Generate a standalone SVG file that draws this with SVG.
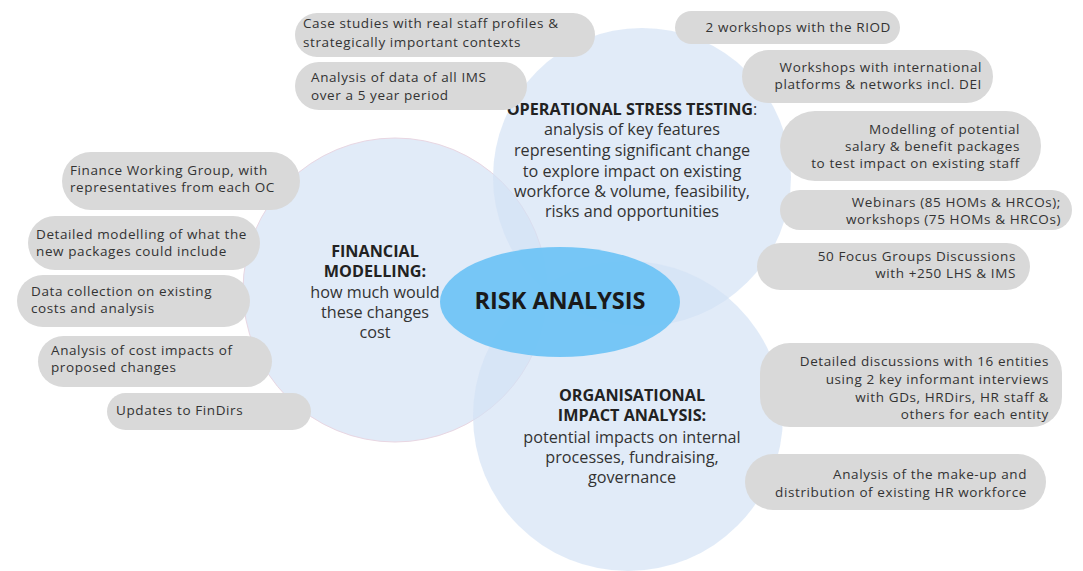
<svg xmlns="http://www.w3.org/2000/svg" width="1083" height="571" viewBox="0 0 1083 571">
<style>
.circ{fill:#d3e2f4;fill-opacity:0.68}
.pill{fill:#d9d9d9}
.pt{font-family:"Open Sans","Noto Sans",sans-serif;font-size:13.5px;letter-spacing:0.6px;fill:#333}
.ct{font-family:"Open Sans","Noto Sans",sans-serif;font-size:16.2px;fill:#333;text-anchor:middle}
.b{font-weight:bold;fill:#222}
.r{text-anchor:end}
</style>
<rect width="1083" height="571" fill="#ffffff"/>
<g id="circles">
<g id="financial-circle"><circle class="circ" cx="395" cy="290" r="152" stroke="#e8d6e2" stroke-width="1"/></g>
<g id="operational-circle"><circle class="circ" cx="642" cy="177" r="149"/></g>
<g id="organisational-circle"><circle class="circ" cx="628" cy="416" r="155"/></g>
</g>
<g id="connectors"></g>
<g id="center">
<ellipse cx="560" cy="302" rx="120" ry="55" fill="#70c4f6" fill-opacity="0.95"/>
<text x="560" y="309" font-family="'Open Sans','Noto Sans',sans-serif" font-size="23.5" font-weight="bold" fill="#1a1a1a" text-anchor="middle">RISK ANALYSIS</text>
</g>
<g id="operational-text">
<text class="ct" x="632" y="115"><tspan class="b">OPERATIONAL STRESS TESTING</tspan>:</text>
<text class="ct" x="632" y="135">analysis of key features</text>
<text class="ct" x="632" y="156">representing significant change</text>
<text class="ct" x="632" y="177">to explore impact on existing</text>
<text class="ct" x="632" y="197">workforce &amp; volume, feasibility,</text>
<text class="ct" x="632" y="217">risks and opportunities</text>
</g>
<g id="financial-text">
<text class="ct b" x="375" y="257">FINANCIAL</text>
<text class="ct b" x="375" y="277">MODELLING:</text>
<text class="ct" x="375" y="298">how much would</text>
<text class="ct" x="375" y="318">these changes</text>
<text class="ct" x="375" y="338">cost</text>
</g>
<g id="organisational-text">
<text class="ct b" x="632" y="401">ORGANISATIONAL</text>
<text class="ct b" x="632" y="421">IMPACT ANALYSIS:</text>
<text class="ct" x="632" y="443">potential impacts on internal</text>
<text class="ct" x="632" y="463">processes, fundraising,</text>
<text class="ct" x="632" y="483">governance</text>
</g>
<g id="pill-case-studies"><rect class="pill" x="295" y="13" width="300" height="44" rx="22"/>
<text class="pt" x="303" y="28">Case studies with real staff profiles &amp;</text>
<text class="pt" x="303" y="47">strategically important contexts</text></g>
<g id="pill-ims-data"><rect class="pill" x="295" y="62" width="232" height="48" rx="24"/>
<text class="pt" x="311" y="82">Analysis of data of all IMS</text>
<text class="pt" x="311" y="100">over a 5 year period</text></g>
<g id="pill-riod"><rect class="pill" x="675" y="11" width="225" height="33" rx="16.5"/>
<text class="pt r" x="891" y="32">2 workshops  with the RIOD</text></g>
<g id="pill-intl"><rect class="pill" x="742" y="50" width="251" height="53" rx="26.5"/>
<text class="pt r" x="982" y="72">Workshops with international</text>
<text class="pt r" x="982" y="89">platforms &amp; networks incl. DEI</text></g>
<g id="pill-modelling"><rect class="pill" x="780" y="111" width="261" height="70" rx="35"/>
<text class="pt r" x="1020" y="134">Modelling of potential</text>
<text class="pt r" x="1020" y="151">salary &amp; benefit packages</text>
<text class="pt r" x="1020" y="168">to test impact on existing staff</text></g>
<g id="pill-webinars"><rect class="pill" x="780" y="190" width="292" height="40" rx="20"/>
<text class="pt r" x="1061" y="207">Webinars (85 HOMs  &amp; HRCOs);</text>
<text class="pt r" x="1061" y="224">workshops (75 HOMs &amp; HRCOs)</text></g>
<g id="pill-focus"><rect class="pill" x="757" y="243" width="273" height="47" rx="23.5"/>
<text class="pt r" x="1016" y="261">50 Focus Groups Discussions</text>
<text class="pt r" x="1016" y="278">with +250 LHS &amp; IMS</text></g>
<g id="pill-discussions"><rect class="pill" x="760" y="343" width="302" height="84" rx="30"/>
<text class="pt r" x="1049" y="366">Detailed discussions with 16 entities</text>
<text class="pt r" x="1049" y="384">using 2 key informant interviews</text>
<text class="pt r" x="1049" y="402">with GDs, HRDirs, HR staff &amp;</text>
<text class="pt r" x="1049" y="419">others for each entity</text></g>
<g id="pill-makeup"><rect class="pill" x="745" y="454" width="301" height="56" rx="28"/>
<text class="pt r" x="1027" y="479">Analysis of the make-up and</text>
<text class="pt r" x="1027" y="497">distribution of existing HR workforce</text></g>
<g id="pill-finance-wg"><rect class="pill" x="62" y="152" width="238" height="58" rx="29"/>
<text class="pt" x="70" y="175">Finance Working Group, with</text>
<text class="pt" x="70" y="192">representatives from each OC</text></g>
<g id="pill-detailed-modelling"><rect class="pill" x="28" y="216" width="232" height="54" rx="27"/>
<text class="pt" x="36" y="239">Detailed modelling of what the</text>
<text class="pt" x="36" y="256">new packages could include</text></g>
<g id="pill-data-collection"><rect class="pill" x="17" y="275" width="233" height="52" rx="26"/>
<text class="pt" x="31" y="296">Data collection on existing</text>
<text class="pt" x="31" y="313">costs and analysis</text></g>
<g id="pill-cost-impacts"><rect class="pill" x="38" y="336" width="234" height="51" rx="25.5"/>
<text class="pt" x="51" y="355">Analysis of cost impacts of</text>
<text class="pt" x="51" y="372">proposed changes</text></g>
<g id="pill-findirs"><rect class="pill" x="107" y="393" width="204" height="37" rx="18.5"/>
<text class="pt" x="116" y="415">Updates to FinDirs</text></g>
</svg>
